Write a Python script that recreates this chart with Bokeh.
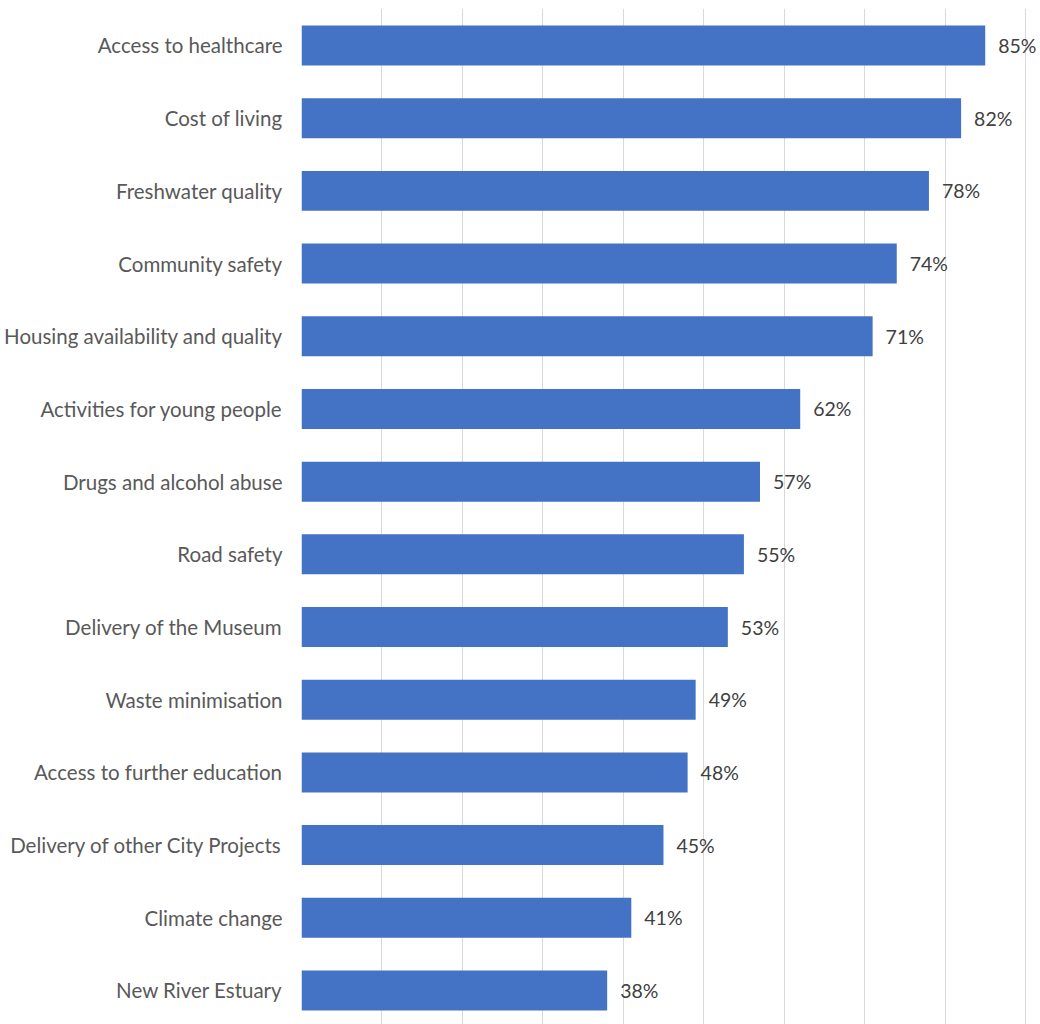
from bokeh.plotting import figure
from bokeh.models import Range1d, FixedTicker, ColumnDataSource
from bokeh.core.properties import value
from bokeh.embed import file_html
from bokeh.resources import INLINE

categories = [
    "Access to healthcare",
    "Cost of living",
    "Freshwater quality",
    "Community safety",
    "Housing availability and quality",
    "Activities for young people",
    "Drugs and alcohol abuse",
    "Road safety",
    "Delivery of the Museum",
    "Waste minimisation",
    "Access to further education",
    "Delivery of other City Projects",
    "Climate change",
    "New River Estuary",
]
percentages = [85, 82, 78, 74, 71, 62, 57, 55, 53, 49, 48, 45, 41, 38]
grid_ticks = [0, 10, 20, 30, 40, 50, 60, 70, 80, 90]

positions = list(range(len(categories)))
src = ColumnDataSource(dict(
    y=positions,
    v=percentages,
    lab=[f"{p}%" for p in percentages],
))

p = figure(
    width=1040, height=1024,
    x_range=Range1d(0, 91.87),
    y_range=Range1d(13.468, -0.509),
    output_backend="svg", toolbar_location=None,
    min_border_left=301, min_border_right=0, min_border_top=8, min_border_bottom=0,
)
p.outline_line_color = None
p.background_fill_color = "white"
p.border_fill_color = "white"

p.hbar(y="y", left=0, right="v", height=0.55, source=src,
       fill_color="#4472C4", line_color=None)

p.text(x="v", y="y", text="lab", source=src, x_offset=13,
       text_baseline="middle", text_align="left",
       text_font=value("Lato"), text_font_size="19.5px", text_color="#404040")

p.xaxis.visible = False
p.xgrid.ticker = FixedTicker(ticks=grid_ticks)
p.xgrid.grid_line_color = "#D9D9D9"
p.xgrid.grid_line_width = 1
p.ygrid.grid_line_color = None

ax = p.yaxis[0]
ax.ticker = FixedTicker(ticks=positions)
ax.major_label_overrides = {i: c for i, c in enumerate(categories)}
ax.axis_line_color = None
ax.major_tick_line_color = None
ax.major_tick_out = 0
ax.major_tick_in = 0
ax.minor_tick_line_color = None
ax.major_label_standoff = 19
ax.major_label_text_font = "Lato"
ax.major_label_text_font_size = "20.5px"
ax.major_label_text_color = "#595959"

open("out.html", "w").write(file_html(p, INLINE))
